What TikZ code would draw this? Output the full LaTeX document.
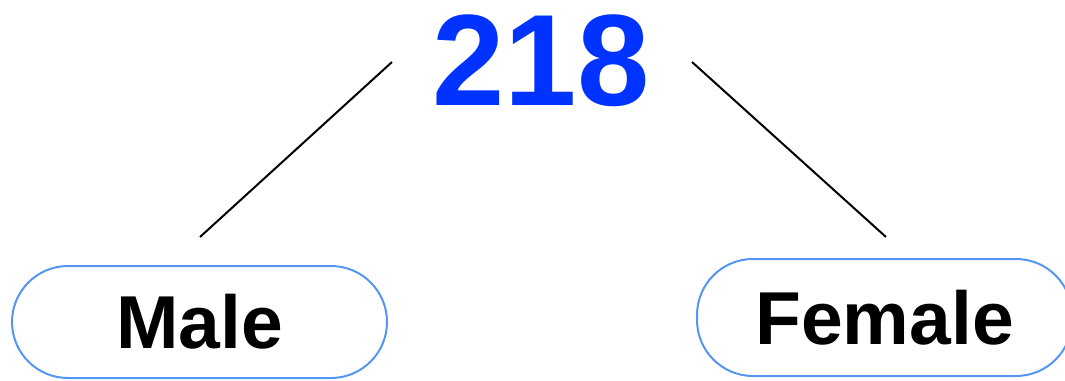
\documentclass[tikz,border=0pt]{standalone}
\definecolor{blue1}{RGB}{0, 51, 255}
\definecolor{sky1}{RGB}{85, 150, 245}
\usepackage{fontspec}
\setmainfont{Liberation Sans}
\usepackage{tikz}
\usetikzlibrary{shapes, arrows.meta, positioning, calc}

\begin{document}
\begin{tikzpicture}[x=1pt, y=-1pt,
  pill/.style={draw=sky1, line width=2pt, rounded corners=56pt, minimum width=375pt, minimum height=112pt, inner sep=0pt, font=\fontsize{75}{80}\selectfont\bfseries}]
  \useasboundingbox (0,0) rectangle (1065,380);
  \node[text=blue1, font=\fontsize{130}{130}\selectfont\bfseries, inner sep=0pt] (total) at (541,61) {218};
  \node[pill] (male) at (199.5,322) {Male};
  \node[pill, minimum height=117pt] (female) at (884.5,317.5) {Female};
  % connectors
  \coordinate (lefttop) at (392,62);
  \coordinate (leftend) at (200,237);
  \coordinate (righttop) at (692,62);
  \coordinate (rightend) at (886,237);
  \draw[line width=2pt] (lefttop) -- (leftend);
  \draw[line width=2pt] (righttop) -- (rightend);
\end{tikzpicture}
\end{document}
